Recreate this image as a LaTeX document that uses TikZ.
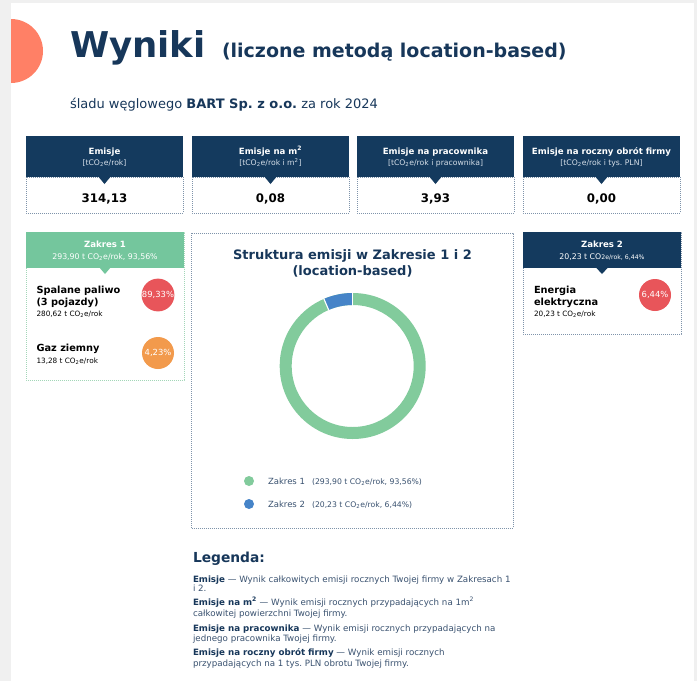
\documentclass[tikz,border=0pt]{standalone}
\usepackage{fontspec}
\setmainfont{DejaVu Sans}
\frenchspacing
\definecolor{navy}{HTML}{143A5E}
\definecolor{txtnavy}{HTML}{17375A}
\definecolor{txtsoft}{HTML}{3A5270}
\definecolor{unitc}{HTML}{D5DEE8}
\definecolor{grn}{HTML}{74C69D}
\definecolor{donutg}{HTML}{82CB9C}
\definecolor{donutb}{HTML}{4684C8}
\definecolor{dotc}{HTML}{7F93AA}
\definecolor{dotg}{HTML}{A3D6B8}
\definecolor{redc}{HTML}{E8555A}
\definecolor{orac}{HTML}{F29A4C}
\definecolor{coral}{HTML}{FF8066}
\definecolor{pagebg}{HTML}{F0F0F0}
\newcommand{\fs}[1]{\fontsize{#1}{#1}\selectfont}
\newcommand{\cotwo}{CO\textsubscript{2}e/rok}
\tikzset{
  dotbox/.style={draw=dotc, line width=0.7pt, dash pattern=on 0.8pt off 1.2pt},
  dotgreen/.style={draw=dotg, line width=0.7pt, dash pattern=on 0.8pt off 1.2pt},
  txt/.style={inner sep=0pt, outer sep=0pt},
  hdrtitle/.style={txt, anchor=base, text=white, font=\fs{8.6}\bfseries},
  hdrunit/.style={txt, anchor=base, text=unitc, font=\fs{7.7}},
  valtxt/.style={txt, anchor=base, text=black, font=\fs{11.8}\bfseries},
  itemtitle/.style={txt, anchor=base west, text=black, font=\fs{9.8}\bfseries},
  itemsub/.style={txt, anchor=base west, text=black, font=\fs{7.3}},
  pct/.style={circle, minimum size=32pt, inner sep=0pt, text=white, font=\fs{8.4}},
  legtxt/.style={txt, anchor=base west, text=txtsoft, font=\fs{8.7}},
  chartleg/.style={txt, anchor=base west, text=txtsoft},
}
\newcommand{\mcard}[5]{%
  \draw[dotbox] (#2,177) rectangle (#2+157,213);
  \node[fill=navy, inner sep=0pt, minimum width=157pt, minimum height=41pt, anchor=north west] (#1h) at (#2,136) {};
  \fill[navy] (#2+72.5,176.8) -- (#2+84.5,176.8) -- (#2+78.5,184) -- cycle;
  \node[hdrtitle] (#1t) at (#2+78.5,154.5) {#3};
  \node[hdrunit] (#1u) at (#2+78.5,165.5) {#4};
  \node[valtxt] (#1v) at (#2+78.5,202.5) {#5};
}
\begin{document}
\begin{tikzpicture}[x=1pt,y=-1pt]
\useasboundingbox (0,0) rectangle (697,681);
\fill[pagebg] (0,0) rectangle (697,681);
\fill[white] (11,3) rectangle (694,681);
% coral half circle
\begin{scope}
  \clip (11,0) rectangle (60,100);
  \fill[coral] (11,51) circle[radius=32];
\end{scope}
% title
\node[txt, anchor=base west, text=txtnavy, font=\fs{35.5}\bfseries] (title) at (70,57) {Wyniki};
\node[txt, anchor=base west, text=txtnavy, font=\fs{19}\bfseries] (subt) at (222,57) {(liczone metodą location-based)};
\node[txt, anchor=base west, text=txtnavy, font=\fs{13}] (firm) at (70,108.5) {śladu węglowego \textbf{BART Sp. z o.o.} za rok 2024};
% cards
\mcard{ca}{26}{Emisje}{[t\cotwo]}{314,13}
\mcard{cb}{192}{Emisje na m\textsuperscript{2}}{[t\cotwo{} i m\textsuperscript{2}]}{0,08}
\mcard{cc}{357}{Emisje na pracownika}{[t\cotwo{} i pracownika]}{3,93}
\mcard{cd}{523}{Emisje na roczny obrót firmy}{[t\cotwo{} i tys. PLN]}{0,00}
% Zakres 1
\draw[dotgreen] (26,232) rectangle (184,380);
\node[fill=grn, inner sep=0pt, minimum width=158pt, minimum height=35.5pt, anchor=north west] (z1h) at (26,232) {};
\fill[grn] (99,267) -- (111,267) -- (105,274) -- cycle;
\node[hdrtitle] (z1t) at (105,247.3) {Zakres 1};
\node[txt, anchor=base, text=white, font=\fs{7.8}] (z1s) at (105,259.5) {293,90 t \cotwo, 93,56\%};
\node[itemtitle] (sp1) at (36.5,293.3) {Spalane paliwo};
\node[itemtitle] (sp2) at (36.5,305.5) {(3 pojazdy)};
\node[itemsub] (sp3) at (36.5,316.5) {280,62 t \cotwo};
\node[pct, fill=redc] (spc) at (158,295) {89,33\%};
\node[itemtitle] (gz1) at (36.5,351.8) {Gaz ziemny};
\node[itemsub] (gz2) at (36.5,363) {13,28 t \cotwo};
\node[pct, fill=orac] (gzc) at (158,353) {4,23\%};
% Zakres 2
\draw[dotbox] (523,232) rectangle (681,334);
\node[fill=navy, inner sep=0pt, minimum width=158pt, minimum height=36pt, anchor=north west] (z2h) at (523,232) {};
\fill[navy] (596,267.5) -- (608,267.5) -- (602,274) -- cycle;
\node[hdrtitle] (z2t) at (602,247.3) {Zakres 2};
\node[txt, anchor=base, text=white, font=\fs{7.8}] (z2s) at (602,259.5) {20,23 t CO{\fs{6.2}2e/rok, 6,44\%}};
\node[itemtitle] (ee1) at (534,293.3) {Energia};
\node[itemtitle] (ee2) at (534,305.5) {elektryczna};
\node[itemsub] (ee3) at (534,316.5) {20,23 t \cotwo};
\node[pct, fill=redc] (eec) at (655,295) {6,44\%};
% chart box
\draw[dotbox] (191,233) rectangle (513,528);
\node[txt, anchor=base, text=txtnavy, font=\fs{13}\bfseries] (ct1) at (352.5,259) {Struktura emisji w Zakresie 1 i 2};
\node[txt, anchor=base, text=txtnavy, font=\fs{13}\bfseries] (ct2) at (352.5,275.5) {(location-based)};
\begin{scope}[shift={(352.7,366)}]
  \fill[donutg, even odd rule] (0,0) circle[radius=73] (0,0) circle[radius=61];
  \fill[donutb] plot[domain=246.8:270, samples=25] (\x:73) -- plot[domain=270:246.8, samples=25] (\x:61) -- cycle;
  \draw[white, line width=1.1pt] (270:60.5) -- (270:73.5);
  \draw[white, line width=1.1pt] (246.8:60.5) -- (246.8:73.5);
\end{scope}
\node[circle, fill=donutg, minimum size=10pt, inner sep=0pt] (lg1d) at (249,481) {};
\node[chartleg, font=\fs{8.5}] (lg1a) at (268,484) {Zakres 1};
\node[chartleg, font=\fs{7.7}] (lg1b) at (312,484) {(293,90 t \cotwo, 93,56\%)};
\node[circle, fill=donutb, minimum size=10pt, inner sep=0pt] (lg2d) at (249,504) {};
\node[chartleg, font=\fs{8.5}] (lg2a) at (268,507) {Zakres 2};
\node[chartleg, font=\fs{7.7}] (lg2b) at (312,507) {(20,23 t \cotwo, 6,44\%)};
% Legenda
\node[txt, anchor=base west, text=txtnavy, font=\fs{13.8}\bfseries] (leg) at (193,562) {Legenda:};
\node[legtxt] (l1) at (193,582) {\textcolor{txtnavy}{\bfseries Emisje} — Wynik całkowitych emisji rocznych Twojej firmy w Zakresach 1};
\node[legtxt] (l2) at (193,591.5) {i 2.};
\node[legtxt] (l3) at (193,605.7) {\textcolor{txtnavy}{\bfseries Emisje na m\textsuperscript{2}} — Wynik emisji rocznych przypadających na 1m\textsuperscript{2}};
\node[legtxt] (l4) at (193,616.5) {całkowitej powierzchni Twojej firmy.};
\node[legtxt] (l5) at (193,631.5) {\textcolor{txtnavy}{\bfseries Emisje na pracownika} — Wynik emisji rocznych przypadających na};
\node[legtxt] (l6) at (193,641.5) {jednego pracownika Twojej firmy.};
\node[legtxt] (l7) at (193,655.3) {\textcolor{txtnavy}{\bfseries Emisje na roczny obrót firmy} — Wynik emisji rocznych};
\node[legtxt] (l8) at (193,666) {przypadających na 1 tys. PLN obrotu Twojej firmy.};
\end{tikzpicture}
\end{document}
